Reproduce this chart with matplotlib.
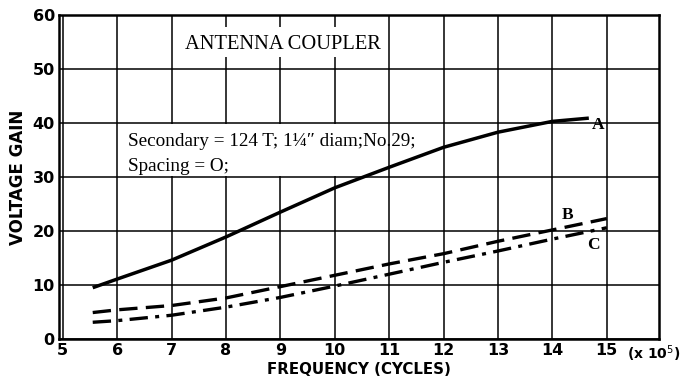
import matplotlib
matplotlib.use("Agg")
import matplotlib.pyplot as plt
from matplotlib.patches import Rectangle

# Frequency (x 10^5 cycles) and voltage gain for the three couplings
freq_a = [5.55, 6, 7, 8, 9, 10, 11, 12, 13, 14, 14.67]
gain_a = [9.5, 11.1, 14.6, 18.9, 23.5, 28.0, 31.8, 35.5, 38.3, 40.3, 40.9]

freq_b = [5.55, 6, 7, 8, 9, 10, 11, 12, 13, 14, 15]
gain_b = [4.9, 5.4, 6.2, 7.6, 9.7, 11.8, 13.9, 15.8, 18.1, 20.2, 22.3]

freq_c = [5.55, 6, 7, 8, 9, 10, 11, 12, 13, 14, 15]
gain_c = [3.1, 3.4, 4.4, 5.9, 7.7, 9.8, 12.0, 14.2, 16.3, 18.5, 20.6]

x_ticks = [5, 6, 7, 8, 9, 10, 11, 12, 13, 14, 15]
y_ticks = [0, 10, 20, 30, 40, 50, 60]

fig = plt.figure(figsize=(6.82, 3.85), dpi=100)
ax = fig.add_axes([59 / 682, 1 - 339 / 385, 600 / 682, 324 / 385])

ax.set_xlim(4.93, 15.96)
ax.set_ylim(0, 60)
ax.set_xticks(x_ticks)
ax.set_yticks(y_ticks)
ax.grid(True, color="black", linewidth=1.1)
ax.set_axisbelow(True)
for s in ax.spines.values():
    s.set_linewidth(1.8)
ax.tick_params(length=0, labelsize=11.5, pad=3)
for lbl in ax.get_xticklabels() + ax.get_yticklabels():
    lbl.set_fontweight("bold")
    lbl.set_family("DejaVu Sans Condensed")

# blank panels behind the caption and the coil note
ax.add_patch(Rectangle((7.15, 52.3), 3.7, 5.4, facecolor="white",
                       edgecolor="none", zorder=1.5))
ax.add_patch(Rectangle((6.03, 30.25), 4.85, 9.5, facecolor="white",
                       edgecolor="none", zorder=1.5))

ax.plot(freq_a, gain_a, color="black", linewidth=2.5, solid_capstyle="butt", zorder=3)
ax.plot(freq_b, gain_b, color="black", linewidth=2.4, dashes=(5.5, 2.5), zorder=3)
ax.plot(freq_c, gain_c, color="black", linewidth=2.4,
        dashes=(5.5, 2.2, 1.2, 2.2), zorder=3)

serif = "Liberation Serif"
ax.text(14.72, 39.6, "A", family=serif, fontsize=12.5, fontweight="bold",
        ha="left", va="center", zorder=4)
ax.text(14.27, 23.0, "B", family=serif, fontsize=12.5, fontweight="bold",
        ha="center", va="center", zorder=4)
ax.text(14.75, 17.4, "C", family=serif, fontsize=12.5, fontweight="bold",
        ha="center", va="center", zorder=4)

ax.text(7.24, 54.6, "ANTENNA COUPLER", family=serif, fontsize=14.8,
        ha="left", va="center", zorder=4)
ax.text(6.19, 36.6, "Secondary = 124 T; 1\u00bc\u2033 diam;No.29;", family=serif,
        fontsize=13.8, ha="left", va="center", zorder=4)
ax.text(6.19, 32.0, "Spacing = O;", family=serif, fontsize=13.8,
        ha="left", va="center", zorder=4)

ax.text(15.37, -0.75, r"(x 10$^5$)", family="DejaVu Sans Condensed", fontsize=10,
        fontweight="bold", ha="left", va="top")

ax.set_xlabel("FREQUENCY (CYCLES)", family="DejaVu Sans Condensed",
              fontsize=10.8, fontweight="bold", labelpad=3)
ax.set_ylabel("VOLTAGE GAIN", family="DejaVu Sans Condensed",
              fontsize=12, fontweight="bold", labelpad=4)

fig.savefig("out.png", dpi=100, facecolor="white")
